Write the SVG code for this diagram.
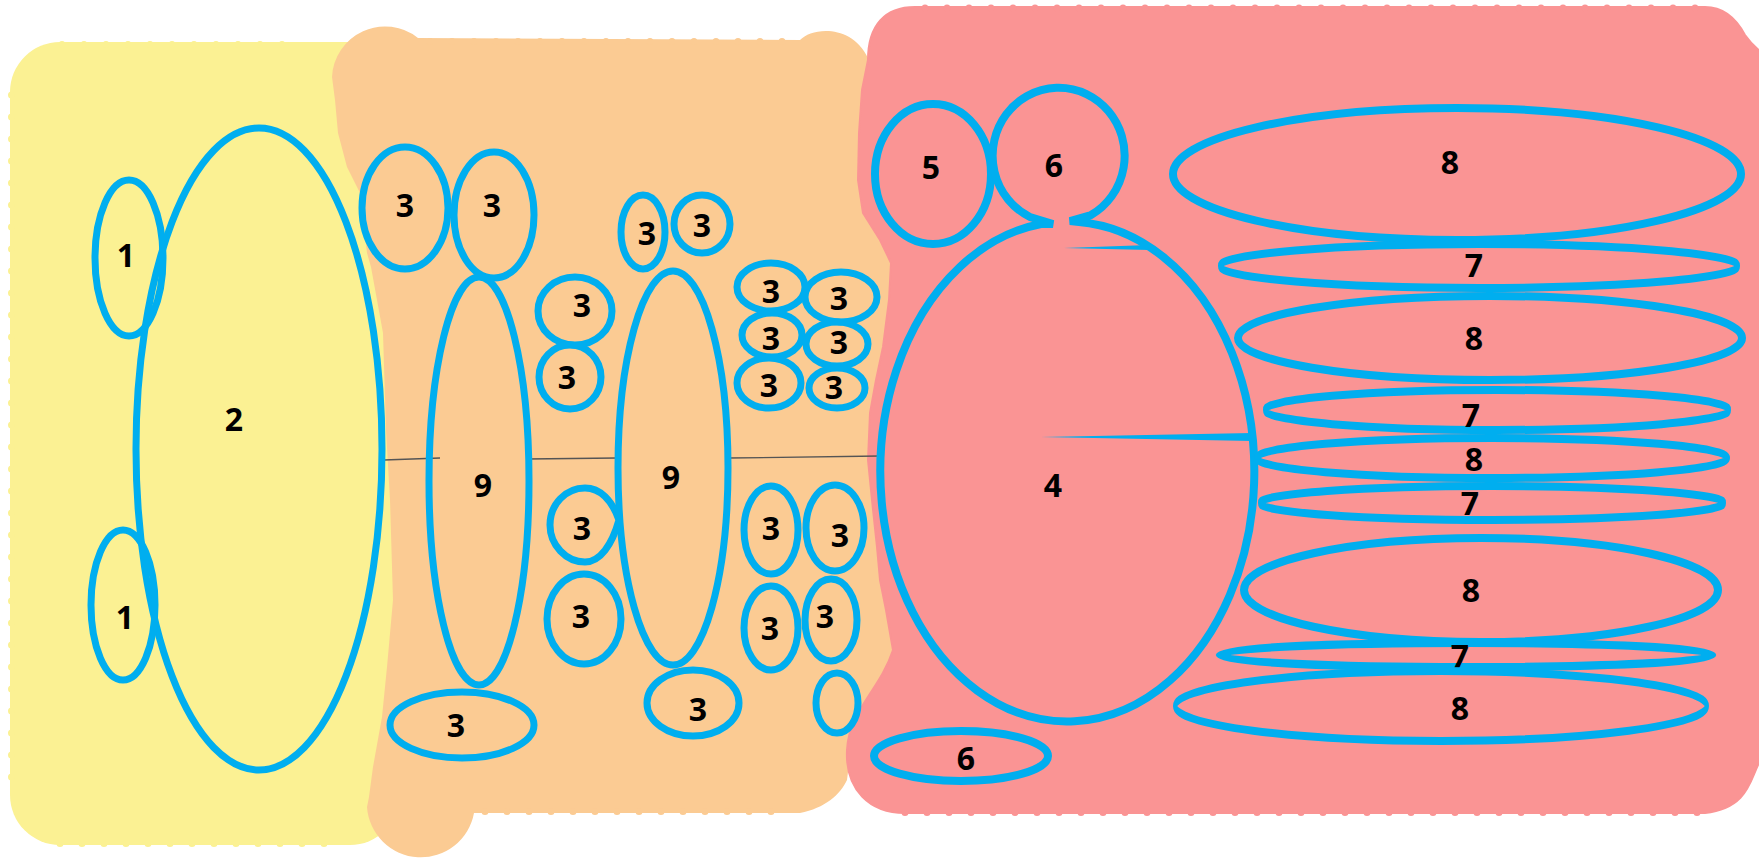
<svg xmlns="http://www.w3.org/2000/svg" width="1759" height="858" viewBox="0 0 1759 858">
  <style>
    .ov { fill: none; stroke: #00AEEF; stroke-width: 7; }
    .ovp { fill: none; stroke: #00AEEF; stroke-width: 8; }
    .lbl { font-family: "Open Sans", "Liberation Sans", sans-serif; font-weight: 700; font-size: 32px; fill: #000; text-anchor: middle; }
    .link { stroke: #555; stroke-width: 1.3; fill: none; }
    .wedge { fill: #00AEEF; }
    .scY { stroke: #FBF193; stroke-width: 7; stroke-linecap: round; stroke-dasharray: 0 22; fill: none; }
    .scO { stroke: #FBCB93; stroke-width: 7; stroke-linecap: round; stroke-dasharray: 0 22; fill: none; }
    .scP { stroke: #FA9494; stroke-width: 7; stroke-linecap: round; stroke-dasharray: 0 22; fill: none; }
  </style>

  <!-- background zones -->
  <g id="zones">
    <rect x="10" y="42" width="390" height="803" rx="50" fill="#FBF193"/>
    <path class="scY" d="M62,44.5 L292,44.5 M11.5,95 L11.5,795 M60,843.5 L330,843.5"/>

    <path fill="#FBCB93" d="M332,77 A53,53 0 0 1 418,38 L800,40 C812,27 852,24 868,58 L880,110 L895,300 L900,640
      L887,670 L873,700 L860,717 L852,740 L847,780 C840,795 825,808 800,813 L474,813 A54,54 0 0 1 367,807
      L369,797 L373,767 L382,717 L387,667 L393,600 L390,500 L386,430 L383,333 L371,267 L367,253 L360,193
      L347,167 L338,133 L335,100 Z"/>
    <path class="scO" d="M430,41.5 L790,41.5 M485,811.5 L790,811.5"/>

    <path fill="#FA9494" stroke="#FA9494" stroke-width="2" stroke-linejoin="round"
      d="M868,60 C868,25 885,7 915,7 L1705,7 C1725,7 1737,20 1745,35 C1752,45 1758,50 1765,55 L1765,760
      L1759,763 C1750,780 1748,808 1705,813 L905,813 C870,813 845,790 847,750 C849,710 880,690 893,650
      L886,610 L880,580 L877,547 L872,500 L868,460 L870,413 L876,380 L883,347 L889,300 L891,263
      L880,240 L863,213 L858,180 L859,133 L862,90 Z"/>
    <path class="scP" d="M925,8 L1700,8 M905,812.5 L1700,812.5"/>
  </g>

  <!-- connectors -->
  <g id="connectors">
    <line class="link" x1="384" y1="460" x2="440" y2="458"/>
    <line class="link" x1="527" y1="459" x2="617" y2="458"/>
    <line class="link" x1="728" y1="458" x2="880" y2="456"/>
    <polygon class="wedge" points="1064,248 1149,245 1149,250"/>
    <polygon class="wedge" points="1041,437 1252,433 1252,441"/>
  </g>

  <!-- first zone -->
  <g id="n2"><ellipse class="ov" cx="259" cy="449" rx="123" ry="321"/><text class="lbl" x="234" y="431">2</text></g>
  <g id="n1a"><ellipse class="ov" cx="129" cy="258" rx="34" ry="78"/><text class="lbl" x="126" y="267">1</text></g>
  <g id="n1b"><ellipse class="ov" cx="123" cy="605" rx="32" ry="75"/><text class="lbl" x="125" y="629">1</text></g>

  <!-- second zone -->
  <g id="n3a"><ellipse class="ov" cx="405" cy="208" rx="43" ry="61"/><text class="lbl" x="405" y="217">3</text></g>
  <g id="n3b"><ellipse class="ov" cx="494" cy="215" rx="40" ry="63"/><text class="lbl" x="492" y="217">3</text></g>
  <g id="n9a"><ellipse class="ov" cx="479" cy="481" rx="50" ry="204"/><text class="lbl" x="483" y="497">9</text></g>
  <g id="n3c"><ellipse class="ov" cx="575" cy="311" rx="37" ry="34"/><text class="lbl" x="582" y="317">3</text></g>
  <g id="n3d"><ellipse class="ov" cx="570" cy="377" rx="31" ry="32"/><text class="lbl" x="567" y="389">3</text></g>
  <g id="n3e"><path class="ov" d="M619,520 C612,545 600,562 585,562 C566,562 550,545 550,525 C550,504 566,488 585,488 C600,488 612,500 619,520 Z"/><text class="lbl" x="582" y="540">3</text></g>
  <g id="n3f"><ellipse class="ov" cx="584" cy="619" rx="37" ry="45"/><text class="lbl" x="581" y="628">3</text></g>
  <g id="n3g"><ellipse class="ov" cx="462" cy="725" rx="72" ry="33"/><text class="lbl" x="456" y="737">3</text></g>
  <g id="n3h"><ellipse class="ov" cx="643" cy="232" rx="22" ry="37"/><text class="lbl" x="647" y="245">3</text></g>
  <g id="n3i"><ellipse class="ov" cx="702" cy="224" rx="28" ry="29"/><text class="lbl" x="702" y="237">3</text></g>
  <g id="n9b"><ellipse class="ov" cx="673" cy="468" rx="55" ry="197"/><text class="lbl" x="671" y="489">9</text></g>
  <g id="n3j"><ellipse class="ov" cx="693" cy="703" rx="46" ry="33"/><text class="lbl" x="698" y="721">3</text></g>
  <g id="n3k"><ellipse class="ov" cx="771" cy="287" rx="34" ry="24"/><text class="lbl" x="771" y="303">3</text></g>
  <g id="n3l"><ellipse class="ov" cx="841" cy="297" rx="36" ry="25"/><text class="lbl" x="839" y="310">3</text></g>
  <g id="n3m"><ellipse class="ov" cx="772" cy="335" rx="30" ry="22"/><text class="lbl" x="771" y="350">3</text></g>
  <g id="n3n"><ellipse class="ov" cx="837" cy="344" rx="31" ry="22"/><text class="lbl" x="839" y="354">3</text></g>
  <g id="n3o"><ellipse class="ov" cx="769" cy="383" rx="32" ry="25"/><text class="lbl" x="769" y="397">3</text></g>
  <g id="n3p"><ellipse class="ov" cx="837" cy="388" rx="28" ry="20"/><text class="lbl" x="834" y="399">3</text></g>
  <g id="n3q"><ellipse class="ov" cx="771" cy="530" rx="27" ry="44"/><text class="lbl" x="771" y="540">3</text></g>
  <g id="n3r"><ellipse class="ov" cx="835" cy="528" rx="29" ry="43"/><text class="lbl" x="840" y="547">3</text></g>
  <g id="n3s"><ellipse class="ov" cx="771" cy="628" rx="27" ry="42"/><text class="lbl" x="770" y="640">3</text></g>
  <g id="n3t"><ellipse class="ov" cx="831" cy="620" rx="26" ry="41"/><text class="lbl" x="825" y="628">3</text></g>
  <g id="n3u"><ellipse class="ov" cx="837" cy="703" rx="21" ry="30"/></g>

  <!-- third zone -->
  <g id="n5"><ellipse class="ovp" cx="933" cy="174" rx="58" ry="70"/><text class="lbl" x="931" y="179">5</text></g>
  <g id="n6-n4">
    <path class="ovp" d="M1041,224 A187,250 0 1 0 1079,222 L1070,221 L1091,215 A66,68 0 1 0 1030,217 L1053,224 Z"/>
    <text class="lbl" x="1054" y="177">6</text>
    <text class="lbl" x="1053" y="497">4</text>
  </g>
  <g id="n8a"><ellipse class="ovp" cx="1457" cy="174" rx="284" ry="66"/><text class="lbl" x="1450" y="174">8</text></g>
  <g id="n7a"><ellipse class="ovp" cx="0" cy="0" rx="866" ry="22" transform="translate(1479,266) scale(0.3,1)"/><text class="lbl" x="1474" y="277">7</text></g>
  <g id="n8b"><ellipse class="ovp" cx="1490" cy="338" rx="252" ry="42"/><text class="lbl" x="1474" y="350">8</text></g>
  <g id="n7b"><ellipse class="ovp" cx="0" cy="0" rx="776" ry="20" transform="translate(1497,410) scale(0.3,1)"/><text class="lbl" x="1471" y="427">7</text></g>
  <g id="n8c"><ellipse class="ovp" cx="0" cy="0" rx="472" ry="20" transform="translate(1492,458) scale(0.5,1)"/><text class="lbl" x="1474" y="471">8</text></g>
  <g id="n7c"><ellipse class="ovp" cx="0" cy="0" rx="776" ry="17" transform="translate(1492,503) scale(0.3,1)"/><text class="lbl" x="1470" y="515">7</text></g>
  <g id="n8d"><ellipse class="ovp" cx="1481" cy="590" rx="237" ry="52"/><text class="lbl" x="1471" y="602">8</text></g>
  <g id="n7d"><ellipse class="ovp" cx="0" cy="0" rx="830" ry="12" transform="translate(1466,655) scale(0.3,1)"/><text class="lbl" x="1460" y="668">7</text></g>
  <g id="n8e"><ellipse class="ovp" cx="0" cy="0" rx="532" ry="35" transform="translate(1441,706) scale(0.5,1)"/><text class="lbl" x="1460" y="720">8</text></g>
  <g id="n6b"><ellipse class="ovp" cx="961" cy="756" rx="87" ry="25"/><text class="lbl" x="966" y="770">6</text></g>
</svg>
